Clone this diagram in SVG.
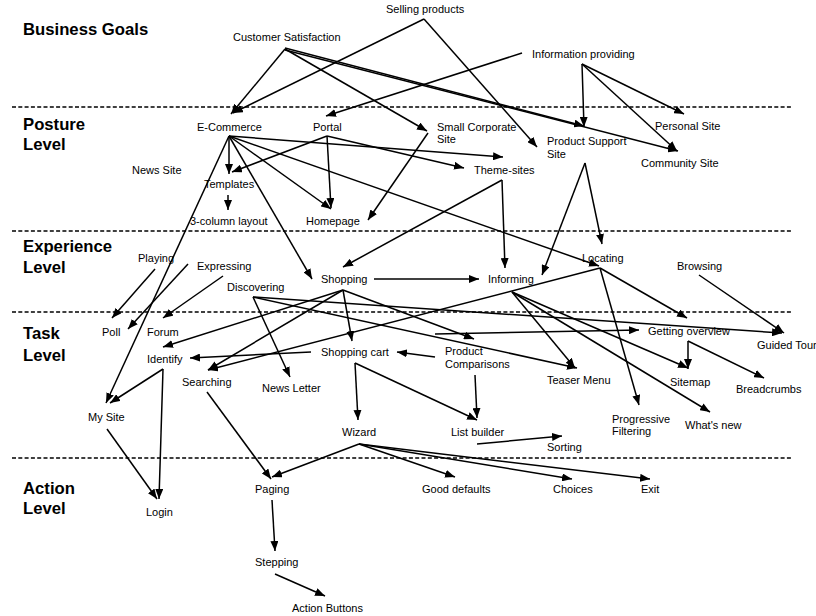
<svg xmlns="http://www.w3.org/2000/svg" width="816" height="616" viewBox="0 0 816 616">
<style>
text{font-family:"Liberation Sans",Arial,sans-serif;font-size:11px;fill:#000}
.t{font-weight:bold;font-size:16.7px}
.d{stroke:#000;stroke-width:1.5;stroke-dasharray:4 2.3;fill:none}
#connectors line{stroke:#000;stroke-width:1.5;marker-end:url(#ah)}
</style>
<defs>
<marker id="ah" viewBox="0 0 10 8" refX="10" refY="4" markerWidth="10" markerHeight="8" markerUnits="userSpaceOnUse" orient="auto">
<path d="M0,0 L10,4 L0,8 z" fill="#000"/>
</marker>
</defs>
<rect width="816" height="616" fill="#fff"/>
<g id="levels">
<line class="d" x1="12" y1="107" x2="792" y2="107"/>
<line class="d" x1="12" y1="231" x2="792" y2="231"/>
<line class="d" x1="12" y1="312" x2="792" y2="312"/>
<line class="d" x1="12" y1="458" x2="792" y2="458"/>
<text class="t" x="23" y="35">Business Goals</text>
<text class="t" x="23" y="130">Posture</text>
<text class="t" x="23" y="150">Level</text>
<text class="t" x="23" y="252">Experience</text>
<text class="t" x="23" y="273">Level</text>
<text class="t" x="23" y="339">Task</text>
<text class="t" x="23" y="361">Level</text>
<text class="t" x="23" y="494">Action</text>
<text class="t" x="23" y="514">Level</text>
</g>
<g id="connectors">
<line x1="285" y1="49" x2="231" y2="114"/>
<line x1="424" y1="19" x2="233" y2="113"/>
<line x1="285" y1="49" x2="427" y2="131"/>
<line x1="285" y1="48" x2="584" y2="126"/>
<line x1="285" y1="50" x2="678" y2="151"/>
<line x1="424" y1="19" x2="537" y2="147"/>
<line x1="522" y1="53" x2="326" y2="116"/>
<line x1="582" y1="64" x2="584" y2="127"/>
<line x1="582" y1="64" x2="684" y2="114"/>
<line x1="582" y1="64" x2="677" y2="151"/>
<line x1="229" y1="136" x2="229" y2="174"/>
<line x1="327" y1="136" x2="232" y2="172"/>
<line x1="229" y1="136" x2="106" y2="403"/>
<line x1="229" y1="136" x2="312" y2="279"/>
<line x1="229" y1="136" x2="331" y2="209"/>
<line x1="229" y1="136" x2="503" y2="157"/>
<line x1="229" y1="136" x2="599" y2="266"/>
<line x1="327" y1="136" x2="331" y2="208"/>
<line x1="327" y1="136" x2="464" y2="168"/>
<line x1="428" y1="133" x2="368" y2="220"/>
<line x1="228" y1="195" x2="228" y2="210"/>
<line x1="502" y1="180" x2="343" y2="267"/>
<line x1="502" y1="180" x2="505" y2="268"/>
<line x1="585" y1="163" x2="542" y2="275"/>
<line x1="585" y1="163" x2="602" y2="244"/>
<line x1="155" y1="269" x2="112" y2="318"/>
<line x1="188" y1="264" x2="128" y2="329"/>
<line x1="223" y1="276" x2="163" y2="318"/>
<line x1="253" y1="297" x2="290" y2="377"/>
<line x1="253" y1="297" x2="782" y2="333"/>
<line x1="253" y1="297" x2="577" y2="368"/>
<line x1="374" y1="279" x2="479" y2="279"/>
<line x1="343" y1="290" x2="163" y2="347"/>
<line x1="343" y1="290" x2="208" y2="370"/>
<line x1="343" y1="290" x2="352" y2="341"/>
<line x1="343" y1="290" x2="474" y2="339"/>
<line x1="512" y1="292" x2="575" y2="368"/>
<line x1="512" y1="292" x2="688" y2="368"/>
<line x1="512" y1="292" x2="710" y2="412"/>
<line x1="600" y1="268" x2="687" y2="318"/>
<line x1="600" y1="268" x2="639" y2="405"/>
<line x1="600" y1="268" x2="208" y2="370"/>
<line x1="699" y1="275" x2="784" y2="333"/>
<line x1="435" y1="334" x2="639" y2="330"/>
<line x1="435" y1="357" x2="397" y2="352"/>
<line x1="475" y1="375" x2="477" y2="418"/>
<line x1="311" y1="352" x2="190" y2="358"/>
<line x1="355" y1="363" x2="358" y2="420"/>
<line x1="355" y1="363" x2="477" y2="420"/>
<line x1="688" y1="341" x2="688" y2="369"/>
<line x1="688" y1="341" x2="764" y2="378"/>
<line x1="163" y1="369" x2="110" y2="403"/>
<line x1="163" y1="369" x2="159" y2="499"/>
<line x1="107" y1="429" x2="157" y2="499"/>
<line x1="207" y1="392" x2="271" y2="479"/>
<line x1="359" y1="444" x2="272" y2="477"/>
<line x1="359" y1="444" x2="455" y2="477"/>
<line x1="359" y1="444" x2="572" y2="479"/>
<line x1="359" y1="444" x2="650" y2="479"/>
<line x1="477" y1="444" x2="562" y2="436"/>
<line x1="272" y1="500" x2="275" y2="551"/>
<line x1="275" y1="574" x2="325" y2="596"/>
</g>
<g id="selling"><text x="386" y="12.5">Selling products</text></g>
<g id="customer"><text x="233" y="41">Customer Satisfaction</text></g>
<g id="information"><text x="532" y="57.5">Information providing</text></g>
<g id="ecommerce"><text x="197" y="130.5">E-Commerce</text></g>
<g id="portal"><text x="313" y="130.5">Portal</text></g>
<g id="smallcorp"><text x="437" y="130.5">Small Corporate</text><text x="437" y="143">Site</text></g>
<g id="prodsupport"><text x="547" y="145">Product Support</text><text x="547" y="157.5">Site</text></g>
<g id="personal"><text x="655" y="130">Personal Site</text></g>
<g id="community"><text x="641" y="167">Community Site</text></g>
<g id="newssite"><text x="132" y="174">News Site</text></g>
<g id="templates"><text x="204" y="188">Templates</text></g>
<g id="themesites"><text x="474" y="174">Theme-sites</text></g>
<g id="threecol"><text x="190" y="225">3-column layout</text></g>
<g id="homepage"><text x="306" y="225">Homepage</text></g>
<g id="playing"><text x="138" y="262">Playing</text></g>
<g id="expressing"><text x="197" y="269.5">Expressing</text></g>
<g id="discovering"><text x="227" y="291">Discovering</text></g>
<g id="shopping"><text x="321" y="282.5">Shopping</text></g>
<g id="informing"><text x="488" y="282.5">Informing</text></g>
<g id="locating"><text x="582" y="262">Locating</text></g>
<g id="browsing"><text x="677" y="269.5">Browsing</text></g>
<g id="poll"><text x="102" y="336">Poll</text></g>
<g id="forum"><text x="147" y="336">Forum</text></g>
<g id="identify"><text x="147" y="363">Identify</text></g>
<g id="searching"><text x="182" y="385.5">Searching</text></g>
<g id="newsletter"><text x="262" y="392">News Letter</text></g>
<g id="shoppingcart"><text x="321" y="356">Shopping cart</text></g>
<g id="prodcomp"><text x="445" y="355">Product</text><text x="445" y="368">Comparisons</text></g>
<g id="overview"><text x="648" y="335">Getting overview</text></g>
<g id="guidedtour"><text x="757" y="349">Guided Tour</text></g>
<g id="teaser"><text x="547" y="384">Teaser Menu</text></g>
<g id="sitemap"><text x="670" y="385.5">Sitemap</text></g>
<g id="breadcrumbs"><text x="736" y="393">Breadcrumbs</text></g>
<g id="mysite"><text x="88" y="421">My Site</text></g>
<g id="wizard"><text x="342" y="436">Wizard</text></g>
<g id="listbuilder"><text x="451" y="436">List builder</text></g>
<g id="sorting"><text x="547" y="451">Sorting</text></g>
<g id="progressive"><text x="612" y="422.5">Progressive</text><text x="612" y="435">Filtering</text></g>
<g id="whatsnew"><text x="685" y="429">What's new</text></g>
<g id="login"><text x="146" y="516">Login</text></g>
<g id="paging"><text x="255" y="493">Paging</text></g>
<g id="gooddefaults"><text x="422" y="493">Good defaults</text></g>
<g id="choices"><text x="553" y="493">Choices</text></g>
<g id="exit"><text x="641" y="493">Exit</text></g>
<g id="stepping"><text x="255" y="566">Stepping</text></g>
<g id="actionbuttons"><text x="292" y="612">Action Buttons</text></g>
</svg>
